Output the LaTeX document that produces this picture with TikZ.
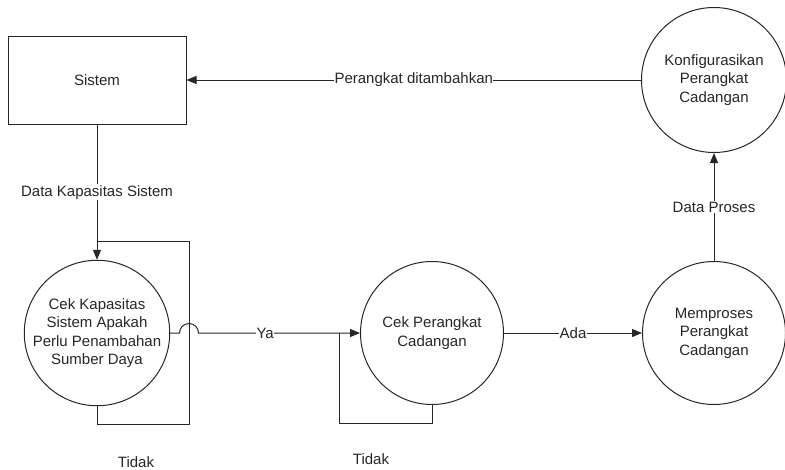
\documentclass[tikz,border=0pt]{standalone}
\usepackage{fontspec}
\setmainfont{Liberation Sans}
\usetikzlibrary{arrows.meta}
\begin{document}
\begin{tikzpicture}[x=1pt,y=-1pt,
  line width=1pt, draw=black!85,
  every node/.style={font=\fontsize{15}{18.5}\selectfont, text=black!85},
  proc/.style={draw, circle, minimum size=143pt, inner sep=0pt, align=center},
  entity/.style={draw, rectangle, minimum width=178pt, minimum height=88pt},
  arr/.style={-{Triangle[length=10pt,width=8pt]}},
  lbl/.style={fill=white, inner xsep=0.3pt, inner ysep=1pt},
  note/.style={anchor=base}]
  \useasboundingbox (0,0) rectangle (785,469);

  % external entity and processes
  \node[entity] (sistem) at (97,80) {Sistem};
  \node[proc, minimum size=145pt] (konfig) at (714,80) {Konfigurasikan\\Perangkat\\Cadangan};
  \node[proc] (cekkap) at (97,333) {Cek Kapasitas\\Sistem Apakah\\Perlu Penambahan\\Sumber Daya};
  \node[proc] (cekper) at (432,333) {Cek Perangkat\\Cadangan};
  \node[proc] (proses) at (714,333) {Memproses\\Perangkat\\Cadangan};

  % data flows
  \draw[arr] (konfig.west) -- node[lbl]{Perangkat ditambahkan} (sistem.east);
  \draw[arr] (sistem.south) -- node[lbl]{Data Kapasitas Sistem} (cekkap.north);
  \draw[arr] (proses.north) -- node[lbl]{Data Proses} (konfig.south);
  \draw[arr] (cekper.east) -- node[lbl]{Ada} (proses.west);

  % "Tidak" loop of the capacity check
  \coordinate (kapB) at (189,424);
  \coordinate (kapT) at (189,241);
  \draw (cekkap.south) |- (kapB) -- (kapT) -- (97,241);

  % "Ya" flow, hopping over the loop line
  \draw[arr] (cekkap.east) -- (179.5,333)
     arc[start angle=180, end angle=0, radius=9.5pt] -- (cekper.west);
  \path (cekkap.east) -- node[lbl]{Ya} (cekper.west);

  % "Tidak" loop of the spare-device check
  \coordinate (perB) at (339,423);
  \draw (cekper.south) |- (perB) -- (339,333);

  \node[note] (tidak1) at (136,467) {Tidak};
  \node[note] (tidak2) at (371,464) {Tidak};
\end{tikzpicture}
\end{document}
